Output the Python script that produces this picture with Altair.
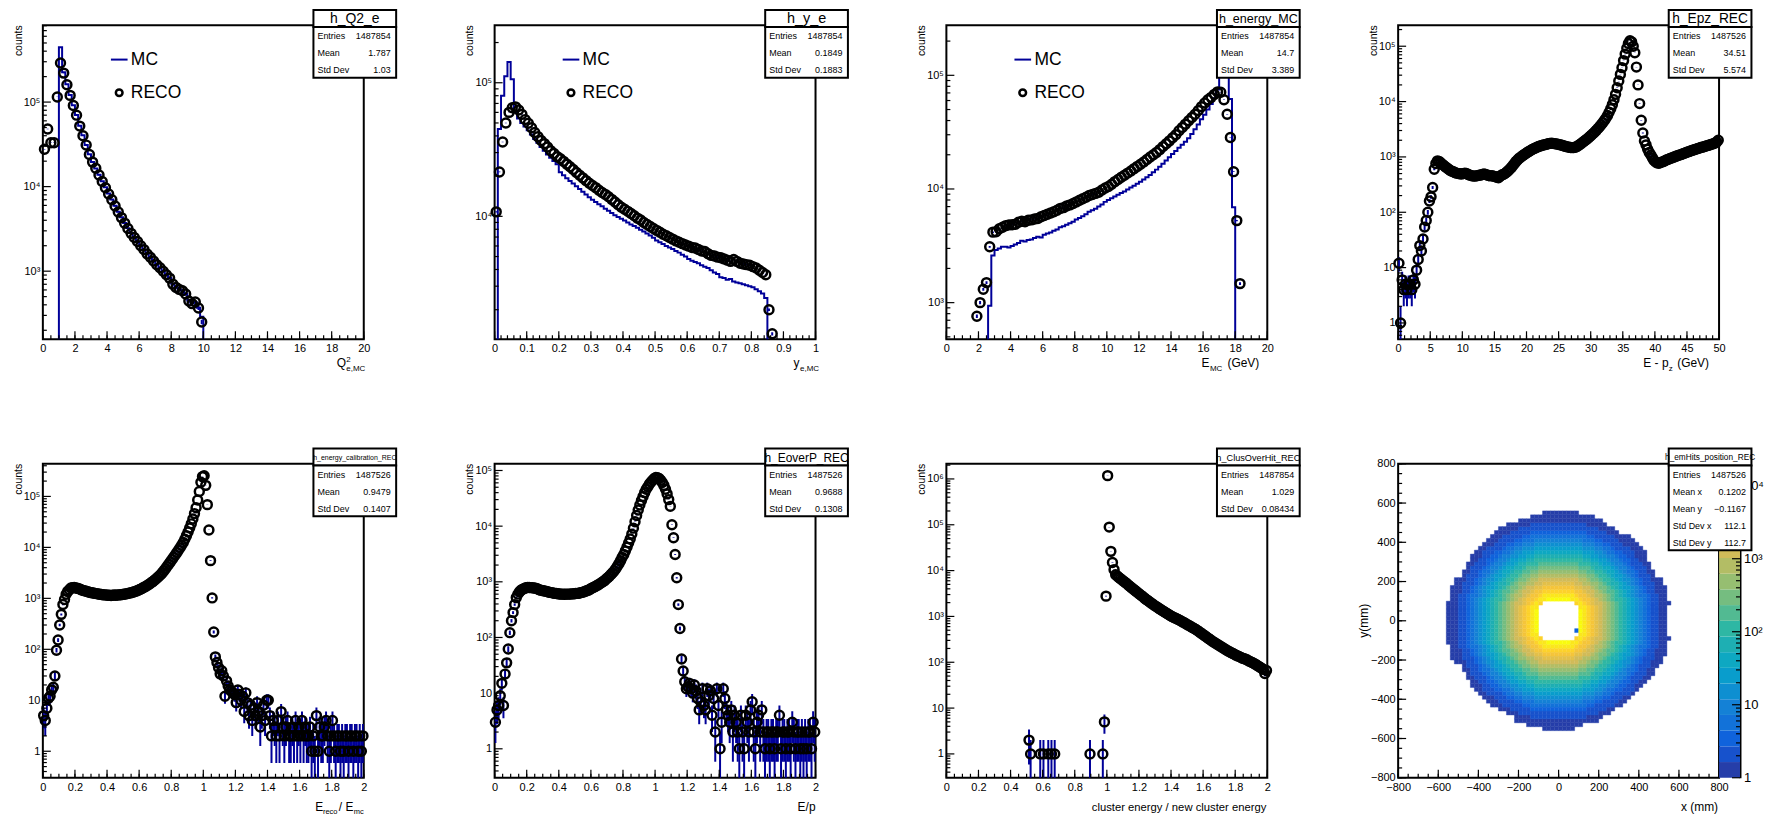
import math
import numpy as np
import pandas as pd
import altair as alt

FONT = "Liberation Sans"
BLUE = "#000099"
W, H = 322, 315
MAJOR, MINOR = 8, 4
ONE = pd.DataFrame({"k": [0]})

# ---------------- histogram contents ----------------
# Q2 of the scattered electron: 100 bins of 0.2 on [0, 20]
q2_start, q2_width, q2_nbins = 0.0, 0.2, 100
q2_reco_first = 0
q2_reco = [27700, 48000, 33000, 33000, 115000, 290000, 220000, 160000, 120000, 91000,
           70000, 52000, 40000, 31000, 24000, 19500, 16500, 13700, 11500, 9700,
           8200, 7000, 5900, 5000, 4300, 3700, 3200, 2800, 2500, 2240,
           2000, 1800, 1600, 1460, 1320, 1190, 1100, 1000, 906, 828,
           703, 643, 609, 588, 537, 444, 413, 432, 367, 251]
q2_mc_first = 5
q2_mc = [445000, 225000, 163000, 121000, 92000,
         70500, 52500, 40500, 31000, 24200, 19600, 16400, 13800, 11600, 9800,
         8300, 7050, 5950, 5050, 4350, 3720, 3230, 2820, 2510, 2250,
         2010, 1810, 1610, 1470, 1330, 1200, 1100, 1010, 910, 830,
         710, 650, 610, 590, 540, 450, 415, 430, 370, 290]

# inelasticity y: 100 bins of 0.01 on [0, 1]
y_start, y_width, y_nbins = 0.0, 0.01, 100
y_reco_first = 0
y_reco = [10800, 21500, 36000, 50000, 60000, 65000, 66000, 62500, 58000, 53000,
          49700, 46000, 42400, 39500, 37000, 35000, 33000, 31000, 29500, 28000,
          27000, 25800, 24600, 23500, 22400, 21300, 20300, 19400, 18500, 17700,
          17000, 16400, 15700, 15100, 14600, 14000, 13400, 12800, 12200, 11700,
          11300, 10900, 10500, 10100, 9700, 9400, 9000, 8700, 8400, 8100,
          7850, 7600, 7350, 7150, 6950, 6750, 6550, 6400, 6250, 6100,
          5980, 5850, 5800, 5650, 5500, 5450, 5250, 5100, 5050, 4950,
          4900, 4800, 4700, 4600, 4750, 4600, 4450, 4400, 4350, 4300,
          4200, 4100, 3950, 3800, 3650, 2000, 1320]
y_mc_first = 1
y_mc = [45000, 80000, 112000, 143000, 106000, 60000, 54000, 50000, 47000,
        44000, 41000, 38000, 35500, 33000, 31000, 29000, 27500, 26000, 24500,
        21400, 20300, 19300, 18400, 17600, 16800, 16000, 15300, 14600, 13900,
        13300, 12800, 12300, 11900, 11400, 11000, 10600, 10200, 9900, 9600,
        9300, 9000, 8700, 8450, 8200, 7950, 7700, 7450, 7200, 6900,
        6600, 6400, 6200, 6000, 5850, 5700, 5500, 5350, 5150, 5000,
        4800, 4650, 4550, 4450, 4300, 4200, 4100, 3950, 3800, 3700,
        3500, 3450, 3350, 3400, 3250, 3200, 3150, 3100, 3050, 3000,
        2950, 2850, 2750, 2650, 2450]

# electron energy: 100 bins of 0.2 GeV on [0, 20]
e_start, e_width, e_nbins = 0.0, 0.2, 100
e_reco_first = 9
e_reco = [759, 1000, 1310, 1500, 3100,
          4170, 4200, 4470, 4600, 4760, 4830,
          4850, 4900, 5100, 5200, 5150,
          5300, 5350, 5450, 5500, 5700,
          5850, 6000, 6150, 6300, 6500,
          6750, 6850, 7100, 7250, 7450,
          7700, 7950, 8200, 8450, 8750,
          8950, 9150, 9350, 9800, 10200,
          10500, 11000, 11600, 12100, 12700,
          13200, 13800, 14400, 15100, 15800,
          16500, 17300, 18200, 19100, 20000,
          21000, 22200, 23600, 25000, 26500,
          28200, 30000, 32500, 34800, 37200,
          39800, 42500, 45500, 49000, 53000,
          57000, 61000, 64000, 68000, 71500,
          71000,
          61000, 45500, 28400, 14200, 5270, 1470]
e_mc_first = 13
e_mc = [940, 2600,
        2900, 3000, 3100, 3100, 3050,
        3150, 3250, 3350, 3500, 3450,
        3550, 3600, 3700, 3800, 3750,
        3950, 4050, 4150, 4300, 4400,
        4600, 4700, 4850, 5000, 5150,
        5400, 5550, 5750, 6000, 6300,
        6500, 6700, 7000, 7300, 7700,
        8000, 8300, 8600, 8900, 9200,
        9500, 9900, 10300, 10700, 11100,
        11600, 12100, 12700, 13300, 14000,
        14800, 15700, 16700, 17800, 19000,
        20300, 21600, 23000, 24500, 26000,
        28000, 30500, 33500, 37000, 41000,
        45000, 50000, 56000, 63000, 75000,
        110000, 140000, 150000, 62000, 6900]

# E - pz: 200 bins of 0.25 GeV on [0, 50]
epz_start, epz_width, epz_nbins = 0.0, 0.25, 200
epz_reco_first = 0
epz_reco = [12, 1, 6, 4, 5, 4, 5, 5,
            4, 6, 5, 9, 14, 25, 20, 33,
            54, 71, 100, 160, 190, 280, 600, 760,
            850, 830, 780, 740, 700, 660, 630, 600,
            570, 550, 540, 520, 510, 500, 495, 490,
            500, 510, 505, 480, 470, 460, 455, 450,
            455, 460, 465, 470, 480, 490, 480, 470,
            460, 455, 460, 450, 440, 430, 420, 450,
            470, 480, 500, 530, 560, 600, 640, 700,
            760, 830, 890, 950, 1000, 1050, 1100, 1150,
            1200, 1260, 1310, 1360, 1410, 1450, 1500, 1540,
            1580, 1610, 1640, 1670, 1700, 1730, 1760, 1770,
            1760, 1740, 1720, 1700, 1670, 1640, 1610, 1580,
            1550, 1520, 1500, 1480, 1470, 1480, 1500, 1550,
            1620, 1690, 1780, 1880, 1980, 2080, 2200, 2340,
            2480, 2640, 2820, 3020, 3250, 3500, 3800, 4150,
            4550, 5000, 5600, 6400, 7400, 8800, 10800, 13500,
            17800, 23500, 31000, 41000, 55000, 72000, 92000, 112000,
            126000, 120000, 100000, 76000, 42000, 20000, 9200, 4600,
            2700, 1940, 1650, 1380, 1200, 1080, 960, 860,
            810, 780, 770, 790, 810, 830, 860, 890,
            910, 940, 960, 990, 1010, 1040, 1060, 1090,
            1110, 1140, 1170, 1200, 1230, 1260, 1290, 1320,
            1350, 1380, 1410, 1440, 1480, 1500, 1530, 1560,
            1600, 1630, 1660, 1700, 1740, 1780, 1850, 2000]

# E_reco / E_mc: 200 bins of 0.01 on [0, 2]
cal_start, cal_width, cal_nbins = 0.0, 0.01, 200
cal_reco_first = 0
cal_reco = [5, 4, 7, 11, 12, 16, 18, 30, 96, 152,
            300, 485, 760, 950, 1200, 1370, 1480, 1600, 1620, 1630,
            1600, 1580, 1550, 1500, 1450, 1420, 1390, 1360, 1330, 1300,
            1290, 1270, 1250, 1240, 1220, 1200, 1190, 1180, 1170, 1160,
            1150, 1150, 1140, 1150, 1160, 1150, 1160, 1170, 1180, 1190,
            1200, 1220, 1240, 1260, 1280, 1300, 1330, 1360, 1400, 1450,
            1500, 1550, 1610, 1680, 1750, 1830, 1920, 2020, 2130, 2260,
            2400, 2560, 2740, 2950, 3200, 3500, 3850, 4250, 4700, 5200,
            5800, 6400, 7100, 7900, 8800, 9800, 11000, 12500, 14500, 17000,
            20000, 24000, 29000, 36000, 46000, 60000, 85000, 125000, 190000, 245000,
            255000, 165000, 69000, 22000, 5500, 1020, 218, 71, 55, 44,
            33, 38, 30, 12, 24, 19, 16, 15, 14, 13,
            9, 16, 13, 10, 12, 6, 14, 9, 5, 8,
            4, 7, 5, 9, 6, 3, 5, 8, 4, 10,
            10, 5, 2, 4, 3, 2, 4, 2, 6, 3,
            2, 3, 4, 2, 2, 3, 2, 4, 2, 3,
            2, 4, 2, 3, 2, 2, 3, 1, 2, 1,
            5, 1, 3, 2, 2, 3, 4, 2, 1, 2,
            4, 2, 1, 2, 2, 1, 2, 1, 2, 2,
            1, 2, 2, 1, 2, 2, 1, 2, 1, 2]

# E/p: 200 bins of 0.01 on [0, 2]
eop_start, eop_width, eop_nbins = 0.0, 0.01, 200
eop_reco_first = 0
eop_reco = [3, 5, 6, 9, 15, 6, 22, 35, 62, 122,
            200, 280, 390, 520, 600, 660, 710, 740, 760, 780,
            790, 790, 785, 780, 775, 770, 750, 730, 710, 700,
            690, 680, 670, 655, 645, 640, 630, 620, 615, 610,
            605, 600, 600, 598, 600, 600, 602, 605, 608, 610,
            615, 620, 625, 635, 645, 660, 675, 690, 710, 740,
            770, 790, 820, 850, 880, 920, 960, 1000, 1050, 1120,
            1180, 1260, 1350, 1450, 1570, 1720, 1900, 2120, 2400, 2750,
            3100, 3600, 4200, 5000, 5900, 7200, 9200, 12000, 15500, 19500,
            24000, 29000, 34000, 40000, 46000, 51000, 57000, 62000, 67000, 72000,
            75000, 74000, 72000, 67000, 61000, 54000, 46000, 38000, 30000, 22700,
            10600, 6200, 3100, 1180, 390, 145, 41, 25, 16, 12,
            13, 15, 12, 10, 14, 11, 8, 5, 7, 12,
            6, 5, 12, 9, 11, 4, 8, 2, 12, 6,
            1, 3, 12, 8, 5, 4, 3, 5, 2, 4,
            3, 2, 1, 4, 2, 1, 4, 3, 2, 5,
            7, 2, 1, 3, 4, 2, 5, 2, 1, 2,
            2, 1, 2, 2, 1, 2, 2, 4, 1, 2,
            2, 1, 2, 2, 1, 3, 2, 1, 2, 2,
            1, 2, 1, 2, 1, 2, 2, 1, 3, 2]

# cluster energy / new cluster energy: 200 bins of 0.01 on [0, 2]
clus_start, clus_width, clus_nbins = 0.0, 0.01, 200
clus_low_bins = [51, 52, 58, 60, 63, 65, 67, 89, 97, 98]
clus_low_counts = [2, 1, 1, 1, 1, 1, 1, 1, 1, 5]
clus_reco_first = 99
clus_reco = [2770,
             1180000, 89000, 26300, 15000, 10500, 8100, 7600, 7100, 6650, 6250,
             5850, 5500, 5150, 4800, 4500, 4200, 3950, 3700, 3450, 3250,
             3050, 2850, 2680, 2510, 2350, 2220, 2090, 1970, 1860, 1750,
             1660, 1580, 1500, 1420, 1350, 1285, 1220, 1160, 1100, 1045,
             1000, 960, 925, 893, 860, 822, 785, 750, 716, 684,
             653, 624, 596, 569, 543, 520, 491, 464, 438, 414,
             391, 369, 348, 328, 309, 290, 276, 263, 250, 238,
             226, 215, 204, 194, 185, 176, 169, 162, 155, 149,
             143, 138, 133, 128, 123, 120, 117, 112, 107, 103,
             99, 95, 91, 86, 82, 78, 74, 70, 57, 66]

# calorimeter hit positions: counts per 20 mm cell versus radius
hit_cell = 20
hit_radius = [100, 120, 140, 160, 180, 200, 220, 240, 260, 280, 300, 320,
              340, 360, 380, 400, 420, 440, 460, 480, 500, 520, 540, 560]
hit_counts = [15000, 13000, 10000, 6500, 3800, 2200, 1300, 750, 430, 250, 150, 90,
              55, 33, 20, 12, 8, 5, 3.5, 2.5, 2, 1.5, 1, 1]
hit_edge_angle = list(range(0, 360, 15))
hit_edge_radius = [545, 560, 540, 555, 545, 560, 555, 550, 555, 545, 540, 560,
                   560, 565, 540, 545, 540, 555, 555, 545, 535, 530, 545, 560]
hit_hole = 100
hit_corner_count = 5000
hit_zmax_log = 4.3

BIRD = ["#352a87", "#0f5cdd", "#1481d6", "#06a4ca", "#2eb7a4",
        "#87bf77", "#d1bb59", "#fec832", "#f9fb0e"]
SUPS = "⁰¹²³⁴⁵⁶⁷⁸⁹"


# ---------------- helpers ----------------
def pow_label(k):
    if k == 0:
        return "1"
    if k == 1:
        return "10"
    return "10" + SUPS[k]


def log_label_expr(ks):
    expr = "''"
    for k in ks:
        v = 10.0 ** k
        expr = f"(datum.value > {v * 0.5} && datum.value < {v * 2}) ? '{pow_label(k)}' : {expr}"
    return expr


def lin_ticks(a, b, step):
    n = int(round((b - a) / step))
    return [round(a + i * step, 6) for i in range(n + 1)]


def log_minor(lo, hi):
    out = []
    for k in range(math.floor(lo), math.ceil(hi) + 1):
        for m in range(2, 10):
            v = m * 10.0 ** k
            if lo <= math.log10(v) <= hi:
                out.append(v)
    return out


def make_axis(values, orient, pad, size=11, fmt=None, expr=None, **extra):
    kw = dict(values=values, orient=orient, ticks=False, tickSize=0, domain=False,
              grid=False, labelFont=FONT, labelFontSize=size, labelColor="black",
              labelPadding=pad, labelFlush=False, labelOverlap=False, title=None)
    if fmt:
        kw["format"] = fmt
    if expr:
        kw["labelExpr"] = expr
    kw.update(extra)
    return alt.Axis(**kw)


def text(s, x, y, size, align="left", baseline="alphabetic", angle=0):
    return alt.Chart(ONE).mark_text(
        text=s, font=FONT, fontSize=size, align=align, baseline=baseline,
        angle=angle, color="black"
    ).encode(x=alt.value(x), y=alt.value(y))


def rect(x1, x2, y1, y2):
    return alt.Chart(ONE).mark_rect(fill="white", stroke="black", strokeWidth=2).encode(
        x=alt.value(x1), x2=alt.value(x2), y=alt.value(y1), y2=alt.value(y2))


def stats_box(name, name_size, rows):
    x1, x2 = 271.5, 354.5
    top, mid = -15.3, 1.7
    bot = mid + 17 * len(rows)
    out = [rect(x1, x2, top, mid), rect(x1, x2, mid, bot),
           text(name, (x1 + x2) / 2, (top + mid) / 2 + 0.5, name_size, "center", "middle")]
    for i, (k, v) in enumerate(rows):
        y = mid + 9.3 + 17 * i
        out.append(text(k, x1 + 4, y, 9, "left", "middle"))
        out.append(text(v, x2 - 5.5, y, 9, "right", "middle"))
    return out


def legend_layers():
    line = alt.Chart(ONE).mark_rule(color=BLUE, strokeWidth=2).encode(
        x=alt.value(68.3), x2=alt.value(85), y=alt.value(34.4))
    circ = alt.Chart(ONE).mark_point(shape="circle", filled=False, color="black",
                                     strokeWidth=2.5, size=45, opacity=1).encode(
        x=alt.value(76.6), y=alt.value(67.7))
    return [line, text("MC", 88.3, 34.4, 17.5, "left", "middle"),
            circ, text("RECO", 88.3, 67.7, 17.5, "left", "middle")]


def title_layers(pieces):
    out = []
    for p in pieces:
        s, x, y, size = p[:4]
        align = p[4] if len(p) > 4 else "left"
        angle = p[5] if len(p) > 5 else 0
        base = p[6] if len(p) > 6 else "alphabetic"
        out.append(text(s, x, y, size, align, base, angle))
    return out


def full_counts(first, counts, nbins):
    arr = [0] * first + list(counts)
    return arr + [0] * (nbins - len(arr))


def hist_panel(p):
    x0, bw, nb = p["start"], p["width"], p["nbins"]
    reco = full_counts(p["reco_first"], p["reco"], nb)
    for b, c in p.get("extra", []):
        reco[b] = c
    ylo, yhi = p["ylog"]
    floor = 10 ** (ylo - 1)
    xdom = p["xdom"]

    xs = alt.Scale(domain=list(xdom), nice=False, zero=False)
    ys = alt.Scale(type="log", domain=[10 ** ylo, 10 ** yhi], nice=False)
    xa = make_axis(lin_ticks(xdom[0], xdom[1], p["xmajor"]), "bottom", 3.5, fmt="~g")
    ks = list(range(math.ceil(ylo), math.floor(yhi) + 1))
    ya = make_axis([10.0 ** k for k in ks], "left", 3, expr=log_label_expr(ks))

    def X(f):
        return alt.X(f, type="quantitative", scale=xs, axis=xa)

    def Y(f):
        return alt.Y(f, type="quantitative", scale=ys, axis=ya)

    layers = []
    if p.get("mc") is not None:
        mc = full_counts(p["mc_first"], p["mc"], nb)
        mdf = pd.DataFrame({
            "x": [x0 + i * bw for i in range(nb + 1)],
            "y": [c if c > 0 else floor for c in mc] + [floor],
        })
        layers.append(alt.Chart(mdf).mark_line(
            interpolate="step-after", clip=True, color=BLUE, strokeWidth=2
        ).encode(x=X("x"), y=Y("y")))

    rows = [(x0 + (i + 0.5) * bw, n) for i, n in enumerate(reco) if n > 0]
    rdf = pd.DataFrame(rows, columns=["x", "n"])
    err = np.sqrt(rdf["n"])
    rdf["lo"] = np.maximum(rdf["n"] - err, floor)
    rdf["hi"] = rdf["n"] + err
    layers.append(alt.Chart(rdf).mark_rule(clip=True, color=BLUE, strokeWidth=2).encode(
        x=X("x"), y=Y("lo"), y2=alt.Y2("hi")))
    layers.append(alt.Chart(rdf).mark_point(
        shape="circle", filled=False, color="black", strokeWidth=2.5, size=80, opacity=1
    ).encode(x=X("x"), y=Y("n")))

    # inward ticks of the frame
    xmaj = lin_ticks(xdom[0], xdom[1], p["xmajor"])
    xmin = lin_ticks(xdom[0], xdom[1], p["xminor"])
    for vals, ln in ((xmaj, MAJOR), (xmin, MINOR)):
        layers.append(alt.Chart(pd.DataFrame({"x": vals})).mark_rule(
            color="black", strokeWidth=1.2).encode(
            x=X("x"), y=alt.value(H), y2=alt.value(H - ln)))
    for vals, ln in (([10.0 ** k for k in ks], MAJOR), (log_minor(ylo, yhi), MINOR)):
        layers.append(alt.Chart(pd.DataFrame({"y": vals})).mark_rule(
            color="black", strokeWidth=1.2).encode(
            y=Y("y"), x=alt.value(0), x2=alt.value(ln)))

    if p.get("legend"):
        layers += legend_layers()
    layers.append(text("counts", -21.2, 0, 10.5, "right", "alphabetic", 270))
    layers += title_layers(p["xtitle"])
    layers += stats_box(p["name"], p["name_size"], p["stats"])
    if p.get("anchor"):
        layers.append(alt.Chart(ONE).mark_rect(opacity=0).encode(
            x=alt.value(-41.7), x2=alt.value(0), y=alt.value(-22.3), y2=alt.value(0)))
    return alt.layer(*layers).properties(width=W, height=H)


def hits_panel():
    L = hit_zmax_log
    nlev = 20
    dom = [10 ** (L * i / 8) for i in range(9)]
    cs = alt.Scale(type="log", domain=dom, range=BIRD, interpolate="rgb")

    def level_value(z):
        lev = min(int(math.floor(nlev * math.log10(z) / L)), nlev - 1)
        return 10 ** (L * (lev + 1) / nlev)

    rows = []
    n = int(1600 / hit_cell)
    for ix in range(n):
        for iy in range(n):
            xa, ya_ = -800 + ix * hit_cell, -800 + iy * hit_cell
            cx, cy = xa + hit_cell / 2, ya_ + hit_cell / 2
            r = math.hypot(cx, cy)
            inside = abs(cx) < hit_hole and abs(cy) < hit_hole
            corner = inside and abs(cx) > hit_hole - hit_cell and abs(cy) > hit_hole - hit_cell
            if inside and not corner:
                if (cx, cy) == (90.0, -50.0):
                    z = 3
                else:
                    continue
            elif corner:
                z = hit_corner_count
            else:
                ang = math.degrees(math.atan2(cy, cx)) % 360
                k = int(round(ang / 15.0)) % len(hit_edge_radius)
                if r > hit_edge_radius[k]:
                    continue
                idx = int(round((r - hit_radius[0]) / hit_cell))
                idx = max(0, min(idx, len(hit_counts) - 1))
                z = hit_counts[idx]
            rows.append((xa, xa + hit_cell, ya_, ya_ + hit_cell, level_value(z)))
    hdf = pd.DataFrame(rows, columns=["x", "x2", "y", "y2", "c"])

    sc = alt.Scale(domain=[-800, 800], nice=False, zero=False)
    maj = lin_ticks(-800, 800, 200)
    mnr = lin_ticks(-800, 800, 50)
    xa = make_axis(maj, "bottom", 3.5, fmt="d")
    ya = make_axis(maj, "left", 3, fmt="d")

    def X(f):
        return alt.X(f, type="quantitative", scale=sc, axis=xa)

    def Y(f):
        return alt.Y(f, type="quantitative", scale=sc, axis=ya)

    heat = [alt.Chart(hdf).mark_rect(strokeWidth=0.4).encode(
        x=X("x"), x2=alt.X2("x2"), y=Y("y"), y2=alt.Y2("y2"),
        color=alt.Color("c:Q", scale=cs, legend=None),
        stroke=alt.Stroke("c:Q", scale=cs, legend=None))]
    for vals, ln in ((maj, MAJOR), (mnr, MINOR)):
        heat.append(alt.Chart(pd.DataFrame({"x": vals})).mark_rule(
            color="black", strokeWidth=1.2).encode(
            x=X("x"), y=alt.value(H), y2=alt.value(H - ln)))
        heat.append(alt.Chart(pd.DataFrame({"y": vals})).mark_rule(
            color="black", strokeWidth=1.2).encode(
            y=Y("y"), x=alt.value(0), x2=alt.value(ln)))
    heat += title_layers([("x (mm)", 321, 348.4, 12, "right"),
                          ("y(mm)", -34.3, H / 2, 12, "center", 270, "middle")])

    # colour bar
    bands = pd.DataFrame({
        "lo": [10 ** (L * i / nlev) for i in range(nlev)],
        "hi": [10 ** (L * (i + 1) / nlev) for i in range(nlev)],
        "c": [10 ** (L * (i + 1) / nlev) for i in range(nlev)],
    })
    cks = [0, 1, 2, 3, 4]
    cbs = alt.Scale(type="log", domain=[1, 10 ** L], nice=False)
    cba = make_axis([10.0 ** k for k in cks], "right", 3.5, size=13,
                    expr=log_label_expr(cks), offset=21, domain=True,
                    domainColor="black", domainWidth=2)
    cbar = [alt.Chart(bands).mark_rect().encode(
        x=alt.value(W), x2=alt.value(W + 21),
        y=alt.Y("lo:Q", scale=cbs, axis=cba), y2=alt.Y2("hi"),
        color=alt.Color("c:Q", scale=cs, legend=None))]
    for vals, ln in (([10.0 ** k for k in cks], MAJOR), (log_minor(0, L), MINOR)):
        cbar.append(alt.Chart(pd.DataFrame({"lo": vals})).mark_rule(
            color="black", strokeWidth=1.2).encode(
            y=alt.Y("lo:Q", scale=cbs, axis=cba), x=alt.value(W + 21), x2=alt.value(W + 21 - ln)))

    box = stats_box("h_emHits_position_REC", 8.3,
                    [("Entries", "1487526"), ("Mean x", "0.1202"), ("Mean y", "\u22120.1167"),
                     ("Std Dev x", "112.1"), ("Std Dev y", "112.7")])
    return alt.layer(alt.layer(*heat), alt.layer(*cbar), *box).resolve_scale(
        y="independent").properties(width=W, height=H)


TOP_T = 343
BOT_T = 348.4
panels_spec = [
    dict(start=q2_start, width=q2_width, nbins=q2_nbins, reco_first=q2_reco_first, reco=q2_reco,
         mc_first=q2_mc_first, mc=q2_mc, xdom=(0, 20), xmajor=2, xminor=0.5,
         ylog=(2.195, 5.908), legend=True, anchor=True,
         xtitle=[("Q", 295, TOP_T, 12), ("2", 304.5, TOP_T - 5.5, 8), ("e,MC", 304.5, TOP_T + 4, 8)],
         name="h_Q2_e", name_size=14,
         stats=[("Entries", "1487854"), ("Mean", "1.787"), ("Std Dev", "1.03")]),
    dict(start=y_start, width=y_width, nbins=y_nbins, reco_first=y_reco_first, reco=y_reco,
         mc_first=y_mc_first, mc=y_mc, xdom=(0, 1), xmajor=0.1, xminor=0.02,
         ylog=(3.08, 5.43), legend=True,
         xtitle=[("y", 300, TOP_T, 12), ("e,MC", 306.5, TOP_T + 4, 8)],
         name="h_y_e", name_size=14.5,
         stats=[("Entries", "1487854"), ("Mean", "0.1849"), ("Std Dev", "0.1883")]),
    dict(start=e_start, width=e_width, nbins=e_nbins, reco_first=e_reco_first, reco=e_reco,
         mc_first=e_mc_first, mc=e_mc, xdom=(0, 20), xmajor=2, xminor=0.5,
         ylog=(2.678, 5.44), legend=True,
         xtitle=[("E", 256, TOP_T, 12), ("MC", 264.5, TOP_T + 4, 8), ("(GeV)", 282, TOP_T, 12)],
         name="h_energy_MC", name_size=12.6,
         stats=[("Entries", "1487854"), ("Mean", "14.7"), ("Std Dev", "3.389")]),
    dict(start=epz_start, width=epz_width, nbins=epz_nbins, reco_first=epz_reco_first, reco=epz_reco,
         xdom=(0, 50), xmajor=5, xminor=1, ylog=(-0.294, 5.378),
         xtitle=[("E - p", 246, TOP_T, 12), ("z", 271.5, TOP_T + 4, 8), ("(GeV)", 280, TOP_T, 12)],
         name="h_Epz_REC", name_size=13.8,
         stats=[("Entries", "1487526"), ("Mean", "34.51"), ("Std Dev", "5.574")]),
    dict(start=cal_start, width=cal_width, nbins=cal_nbins, reco_first=cal_reco_first, reco=cal_reco,
         xdom=(0, 2), xmajor=0.2, xminor=0.05, ylog=(-0.52, 5.64),
         xtitle=[("E", 273.3, BOT_T, 12), ("reco", 281, BOT_T + 3, 7.5), ("/ E", 297, BOT_T, 12),
                 ("mc", 312, BOT_T + 3, 7.5)],
         name="h_energy_calibration_REC", name_size=7,
         stats=[("Entries", "1487526"), ("Mean", "0.9479"), ("Std Dev", "0.1407")]),
    dict(start=eop_start, width=eop_width, nbins=eop_nbins, reco_first=eop_reco_first, reco=eop_reco,
         xdom=(0, 2), xmajor=0.2, xminor=0.05, ylog=(-0.52, 5.12),
         xtitle=[("E/p", 322, BOT_T, 12, "right")],
         name="h_EoverP_REC", name_size=12,
         stats=[("Entries", "1487526"), ("Mean", "0.9688"), ("Std Dev", "0.1308")]),
    dict(start=clus_start, width=clus_width, nbins=clus_nbins, reco_first=clus_reco_first, reco=clus_reco,
         extra=list(zip(clus_low_bins, clus_low_counts)),
         xdom=(0, 2), xmajor=0.2, xminor=0.05, ylog=(-0.52, 6.33),
         xtitle=[("cluster energy / new cluster energy", 321, BOT_T, 11.3, "right")],
         name="h_ClusOverHit_REC", name_size=9.2,
         stats=[("Entries", "1487854"), ("Mean", "1.029"), ("Std Dev", "0.08434")]),
]

panels = [hist_panel(p) for p in panels_spec] + [hits_panel()]

chart = alt.concat(
    *panels, columns=4, spacing={"row": 125, "column": 131.3}, bounds="flush"
).configure_view(stroke="black", strokeWidth=2).properties(padding=0, background="white")

chart.save("out.html", embed_options={"renderer": "svg", "actions": False})
